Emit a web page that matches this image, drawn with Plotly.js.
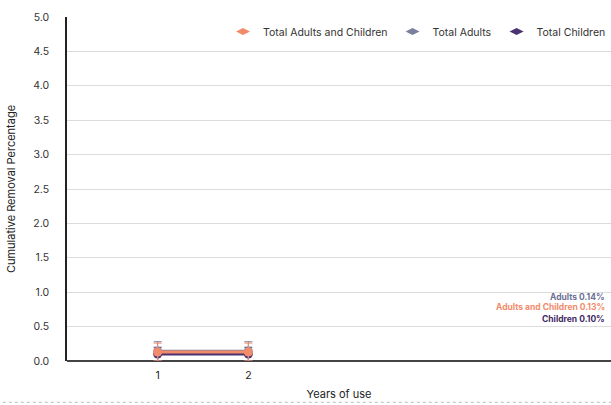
<!DOCTYPE html>
<html><head><meta charset="utf-8">
<script src="https://cdn.plot.ly/plotly-3.0.1.min.js"></script>
<style>html,body{margin:0;padding:0;background:#fff}#chart{width:611px;height:405px}</style>
</head><body><div id="chart"></div>
<script>
const years = [1, 2];
const seriesNames = ["Total Adults and Children", "Total Adults", "Total Children"];
const totalAll = [0.13, 0.13];
const totalAdults = [0.14, 0.14];
const totalChildren = [0.10, 0.10];
const errAll = [0.13, 0.13];
const errAdults = [0.14, 0.14];
const errChildren = [0.10, 0.10];
const colors = ["#f28b6b", "#7d809c", "#4b3371"];
const labels = ["Adults 0.14%", "Adults and Children 0.13%", "Children 0.10%"];
const labelColors = ["#6b6f94", "#f28b6b", "#3f2a66"];

const series = [
  {y: totalChildren, name: seriesNames[2], error: errChildren, color: colors[2]},
  {y: totalAdults, name: seriesNames[1], error: errAdults, color: colors[1]},
  {y: totalAll, name: seriesNames[0], error: errAll, color: colors[0]}
];
const data = series.map(s => ({
  x: years, y: s.y, name: s.name, type: 'scatter', mode: 'lines+markers', showlegend: false,
  line: {color: s.color, width: 3},
  marker: {color: s.color, size: 9, symbol: 'circle'},
  error_y: {type: 'data', array: s.error, color: s.color, thickness: 1, width: 4}
})).concat(seriesNames.map((n, i) => ({
  x: [null], y: [null], name: n, type: 'scatter', mode: 'markers',
  marker: {color: colors[i], size: 10, symbol: 'diamond-wide'}
})));

const layout = {
  width: 611, height: 405,
  margin: {l: 67, r: 0, t: 17, b: 44, autoexpand: false},
  paper_bgcolor: '#fff', plot_bgcolor: '#fff',
  font: {family: 'Inter, "Open Sans", sans-serif', size: 10, color: '#333'},
  showlegend: true,
  legend: {orientation: 'h', x: 1, xanchor: 'right', y: 1.0, yanchor: 'top',
           font: {size: 10.5, color: '#333'}, traceorder: 'normal', itemwidth: 30,
           tracegroupgap: 0},
  xaxis: {range: [0, 6], tickvals: years, ticktext: years.map(String), showgrid: false, automargin: false,
          zeroline: false, showline: false, ticks: '', ticklen: 0, ticklabelstandoff: 6,
          title: {text: 'Years of use', font: {size: 11, color: '#222'}, standoff: 9},
          tickfont: {size: 10.5, color: '#222'}},
  yaxis: {range: [0, 5], dtick: 0.5, tickformat: '.1f', showgrid: true, gridcolor: '#dcdcdc', automargin: false,
          zeroline: true, zerolinecolor: '#444', zerolinewidth: 1.5,
          showline: true, linecolor: '#222', linewidth: 1.5,
          ticks: '', ticklabelstandoff: 14, tickfont: {size: 10.5, color: '#333'},
          title: {text: 'Cumulative Removal Percentage', font: {size: 11, color: '#222'}, standoff: 15}},
  annotations: labels.map((t, i) => ({
    text: '<b>' + t + '</b>', xref: 'paper', yref: 'y', x: 0.993, xanchor: 'right',
    y: [0.93, 0.78, 0.61][i], yanchor: 'middle', showarrow: false,
    font: {size: 8.5, color: labelColors[i]}
  })),
  shapes: [{type: 'line', xref: 'paper', yref: 'paper', x0: -0.14, x1: 1, y0: -0.12, y1: -0.12,
            line: {color: '#bbb', width: 1, dash: 'dot'}}]
};
Plotly.newPlot('chart', data, layout, {displayModeBar: false});
</script></body></html>
